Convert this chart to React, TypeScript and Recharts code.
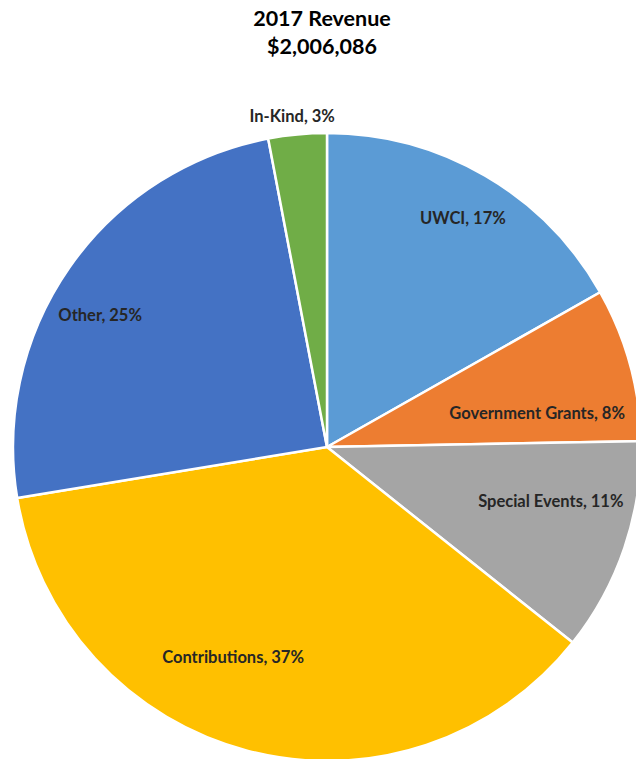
import React from "react";
import { PieChart, Pie, Cell } from "recharts";

const categories = ["UWCI", "Government Grants", "Special Events", "Contributions", "Other", "In-Kind"];
const shares = [16.8, 7.9, 11.0, 36.7, 24.6, 3.0];
const colors = ["#5B9BD5", "#ED7D31", "#A5A5A5", "#FFC000", "#4472C4", "#70AD47"];
const titleLines = ["2017 Revenue", "$2,006,086"];

// label placement: angle offset (deg, clockwise) and radius factor
const labelAngleOffset = [0.5, 6.1, -5.2, 9.5, -4.7, -0.6];
const labelRadiusFactor = [0.847, 0.678, 0.733, 0.733, 0.836, 1.06];

const data = categories.map((name, i) => ({ name, value: shares[i] }));

const RAD = Math.PI / 180;
const FONT = "Lato, 'Open Sans', sans-serif";

const renderLabel = (props: any) => {
  const { cx, cy, midAngle, outerRadius, index, percent } = props;
  const ang = midAngle - labelAngleOffset[index];
  const r = outerRadius * labelRadiusFactor[index];
  const x = cx + r * Math.cos(-ang * RAD);
  const y = cy + r * Math.sin(-ang * RAD);
  return (
    <text
      x={x}
      y={y}
      textAnchor="middle"
      dominantBaseline="central"
      fill="#262626"
      fontFamily={FONT}
      fontWeight="bold"
      fontSize={16.5}
    >
      {`${categories[index]}, ${Math.round(percent * 100)}%`}
    </text>
  );
};

export default function App() {
  return (
    <div style={{ position: "absolute", left: 0, top: 0, width: 636, height: 759, background: "#fff", overflow: "hidden" }}>
      <div
        style={{
          position: "absolute",
          left: 0,
          top: 4,
          width: 636,
          textAlign: "center",
          fontFamily: FONT,
          fontWeight: "bold",
          fontSize: 21.5,
          lineHeight: "28px",
          color: "#000",
          paddingLeft: 8,
          boxSizing: "border-box",
        }}
      >
        {titleLines.map((t) => (
          <div key={t}>{t}</div>
        ))}
      </div>
      <PieChart width={636} height={759} margin={{ top: 0, right: 0, bottom: 0, left: 0 }}>
        <Pie
          data={data}
          dataKey="value"
          nameKey="name"
          cx={327}
          cy={447}
          outerRadius={314}
          startAngle={90}
          endAngle={-270}
          stroke="#fff"
          strokeWidth={2.5}
          label={renderLabel}
          labelLine={false}
          isAnimationActive={false}
        >
          {data.map((d, i) => (
            <Cell key={d.name} fill={colors[i]} />
          ))}
        </Pie>
      </PieChart>
    </div>
  );
}
